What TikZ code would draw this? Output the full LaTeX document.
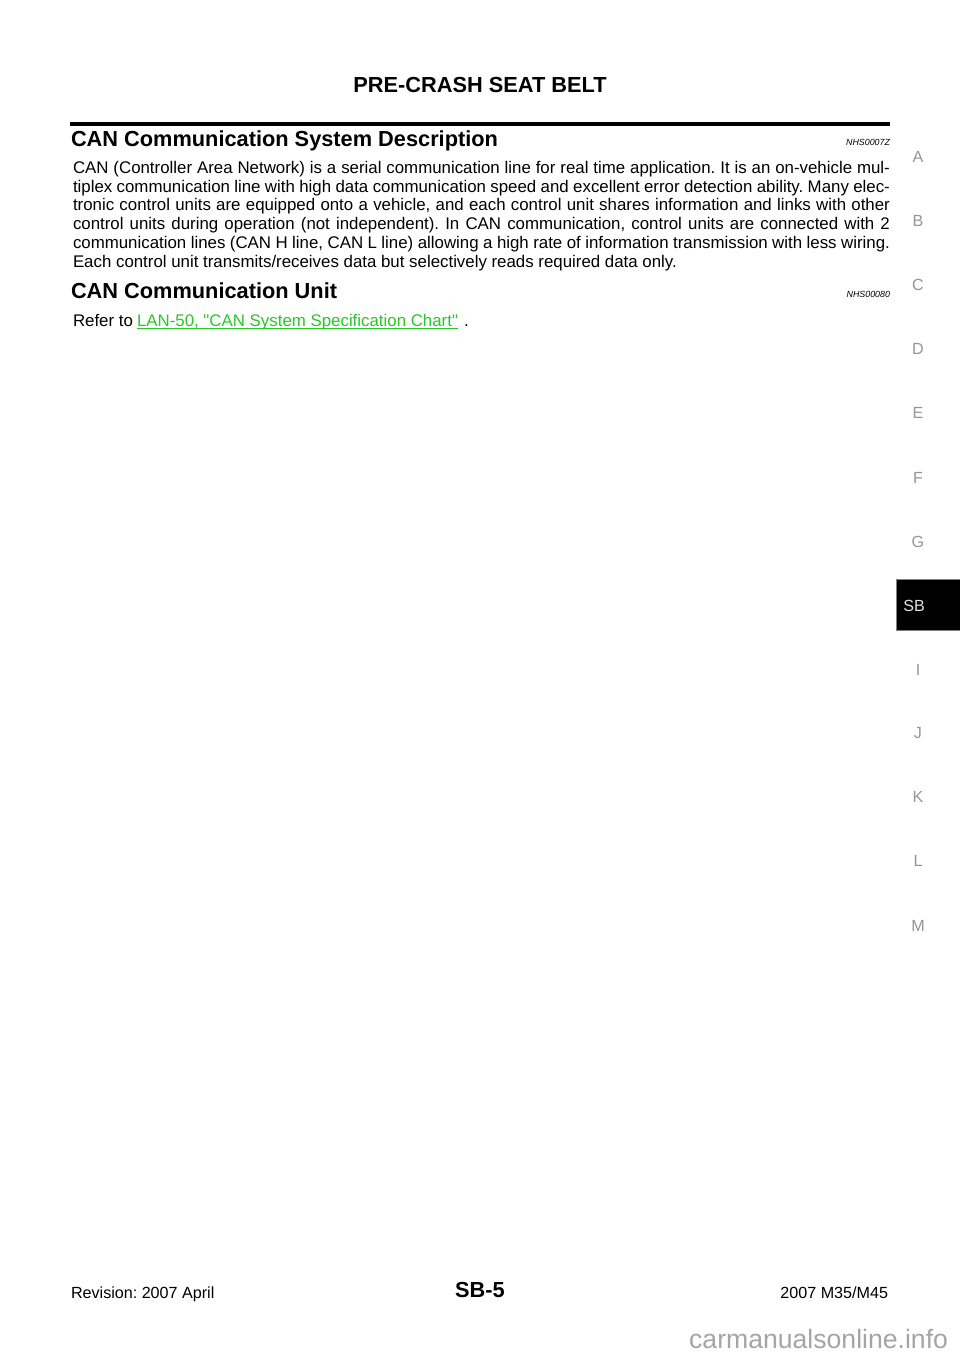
\documentclass[tikz,border=0pt]{standalone}
\usepackage{fontspec}
\setmainfont{Liberation Sans}
\frenchspacing
\definecolor{linkgreen}{RGB}{40,200,40}
\definecolor{sidegray}{RGB}{150,150,150}
\definecolor{wmgray}{RGB}{165,165,165}
\definecolor{tabtext}{RGB}{225,225,225}
\newcommand\jline[1]{\makebox[506.6pt][s]{#1}}
\tikzset{
  txt/.style={inner sep=0pt, outer sep=0pt, anchor=base west},
  txtr/.style={inner sep=0pt, outer sep=0pt, anchor=base east},
  txtc/.style={inner sep=0pt, outer sep=0pt, anchor=base},
  body/.style={txt, font=\fontsize{10.45}{12}\selectfont},
  headfont/.style={font=\fontsize{13.5}{16}\selectfont\bfseries},
  codefont/.style={font=\fontsize{5.5}{6}\selectfont\itshape},
  sideletter/.style={inner sep=0pt, anchor=center, text=sidegray, font=\fontsize{10}{12}\selectfont},
}
\begin{document}
\begin{tikzpicture}[x=0.6201pt,y=-0.6201pt]
\useasboundingbox (0,0) rectangle (960,1358);
\fill[white] (0,0) rectangle (960,1358);

% page title
\node[txtc, headfont] (title) at (480,93) {PRE-CRASH SEAT BELT};

% rule
\coordinate (rl) at (70,124);
\coordinate (rr) at (890,124);
\draw[line width=1.9pt] (rl) -- (rr);

% section 1
\node[txt, headfont] (h1) at (71,147) {CAN Communication System Description};
\node[txtr, codefont] (c1) at (890,146) {NHS0007Z};
\node[body] (b1) at (73,174) {\jline{CAN (Controller Area Network) is a serial communication line for real time application. It is an on-vehicle mul-}};
\node[body] (b2) at (73,193) {\jline{tiplex communication line with high data communication speed and excellent error detection ability. Many elec-}};
\node[body] (b3) at (73,211) {\jline{tronic control units are equipped onto a vehicle, and each control unit shares information and links with other}};
\node[body] (b4) at (73,230) {\jline{control units during operation (not independent). In CAN communication, control units are connected with 2}};
\node[body] (b5) at (73,248) {\jline{communication lines (CAN H line, CAN L line) allowing a high rate of information transmission with less wiring.}};
\node[body] (b6) at (73,267) {Each control unit transmits/receives data but selectively reads required data only.};

% section 2
\node[txt, headfont] (h2) at (71,298) {CAN Communication Unit};
\node[txtr, codefont] (c2) at (890,297) {NHS00080};
\node[body] (r1) at (73,326) {Refer to};
\node[body, text=linkgreen] (link) at (137,326) {LAN-50, \textquotedbl CAN System Specification Chart\textquotedbl};
\node[body] (dot) at (464,326) {.};
\draw[linkgreen, line width=0.6pt] ([yshift=-1.6pt]link.base west) -- ([yshift=-1.6pt]link.base east);

% side index
\node[sideletter] (sA) at (918,157) {A};
\node[sideletter] (sB) at (918,221) {B};
\node[sideletter] (sC) at (918,285) {C};
\node[sideletter] (sD) at (918,349) {D};
\node[sideletter] (sE) at (918,413) {E};
\node[sideletter] (sF) at (918,478) {F};
\node[sideletter] (sG) at (918,542) {G};
\fill[black] (896,579) rectangle (962,630);
\draw[gray, line width=0.5pt] (962,579) -- (896,579) -- (896,630) -- (962,630);
\node[sideletter, text=tabtext] (sSB) at (914,606) {SB};
\node[sideletter] (sI) at (918,670) {I};
\node[sideletter] (sJ) at (918,733) {J};
\node[sideletter] (sK) at (918,797) {K};
\node[sideletter] (sL) at (918,861) {L};
\node[sideletter] (sM) at (918,926) {M};

% footer
\node[txt, font=\fontsize{10}{12}\selectfont] (f1) at (71,1298) {Revision: 2007 April};
\node[txtc, font=\fontsize{13.5}{16}\selectfont\bfseries] (f2) at (480,1297) {SB-5};
\node[txtr, font=\fontsize{10}{12}\selectfont] (f3) at (888,1298) {2007 M35/M45};
\node[txtr, text=wmgray, font=\fontsize{16.5}{18}\selectfont] (wm) at (948,1348) {carmanualsonline.info};
\end{tikzpicture}
\end{document}
